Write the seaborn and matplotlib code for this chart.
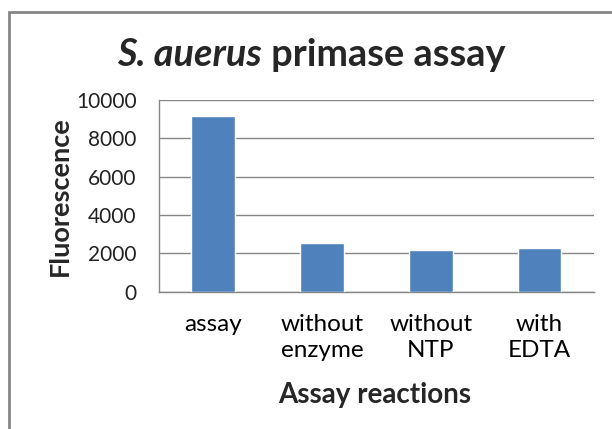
import matplotlib
matplotlib.use("Agg")
import matplotlib.pyplot as plt
import seaborn as sns
import pandas as pd
from matplotlib.patches import Rectangle

reactions = ["assay", "without\nenzyme", "without\nNTP", "with\nEDTA"]
fluorescence = [9180, 2540, 2160, 2280]
yticks = [0, 2000, 4000, 6000, 8000, 10000]

df = pd.DataFrame({"reaction": reactions, "fluorescence": fluorescence})

sns.set_theme(style="white")
plt.rcParams['font.family'] = ['Lato', 'DejaVu Sans']

fig = plt.figure(figsize=(6.12, 4.29), dpi=100)
ax = fig.add_axes([0.2593, 0.32, 0.9706 - 0.2593, 0.7669 - 0.32])

sns.barplot(data=df, x="reaction", y="fluorescence", color="#4F81BD",
            saturation=1, width=0.4, ax=ax, zorder=3)

ax.set_ylim(0, 10000)
ax.set_yticks(yticks)
ax.set_yticklabels([str(v) for v in yticks], fontsize=15, color="#222222")
ax.set_xlim(-0.5, 3.5)
ax.tick_params(axis="x", length=0, labelsize=17.5, pad=16, colors="black")
ax.tick_params(axis="y", length=7, width=1, color="#868686", direction="out", pad=9)
for lbl in ax.get_xticklabels():
    lbl.set_linespacing(1.3)
ax.yaxis.grid(True, color="#868686", linewidth=1)
ax.set_axisbelow(True)

for side in ["top", "right"]:
    ax.spines[side].set_visible(False)
for side in ["left", "bottom"]:
    ax.spines[side].set_color("#868686")
    ax.spines[side].set_linewidth(1)

ax.set_ylabel("Fluorescence", fontsize=19.5, fontweight="bold")
ax.yaxis.set_label_coords(-0.227, 0.5)
ax.yaxis.label.set_va("center")
ax.set_xlabel("Assay reactions", fontsize=20, fontweight="bold")
ax.xaxis.set_label_coords(0.496, -0.539)
ax.xaxis.label.set_va("center")

# title: italic species name followed by upright text
t1 = fig.text(117 / 612, 1 - 66 / 429, "S. auerus", fontsize=27.3,
              fontstyle="italic", fontweight="bold", ha="left", va="baseline")
ax.annotate(" primase assay", xy=(1, 0), xycoords=t1, fontsize=27.3,
            fontweight="bold", ha="left", va="bottom")

fig.patches.append(Rectangle((9 / 612, -0.1), 1.2, 1 - 12 / 429 + 0.1,
                             transform=fig.transFigure, fill=False,
                             edgecolor="#868686", linewidth=2))

fig.savefig("out.png", dpi=100)
